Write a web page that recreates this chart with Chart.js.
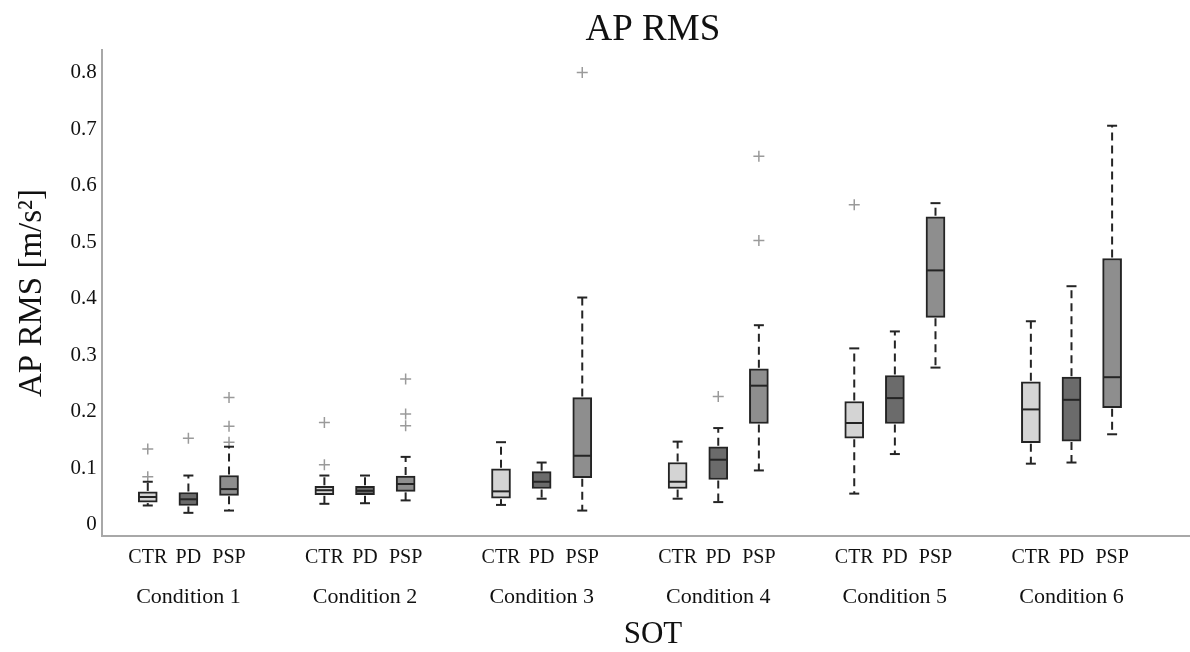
<!DOCTYPE html>
<html>
<head>
<meta charset="utf-8">
<title>AP RMS</title>
<script src="https://cdn.jsdelivr.net/npm/chart.js@4.4.1/dist/chart.umd.min.js"></script>
<style>
  html, body { margin: 0; padding: 0; background: #fff; overflow: hidden; }
  #wrap { width: 1190px; height: 652px; }
</style>
</head>
<body>
<div id="wrap"><canvas id="grafico"></canvas></div>
<script>
// categorias
const conditions = ['Condition 1', 'Condition 2', 'Condition 3', 'Condition 4', 'Condition 5', 'Condition 6'];
const groups = ['CTR', 'PD', 'PSP'];
const yTickValues = [0, 0.1, 0.2, 0.3, 0.4, 0.5, 0.6, 0.7, 0.8];
const chartTitle = 'AP RMS';
const xTitle = 'SOT';
const yTitle = 'AP RMS [m/s²]';

// CTR (min whisker, Q1, mediana, Q3, max whisker, outliers)
const ctrLow  = [0.034, 0.037, 0.035, 0.046, 0.055, 0.108];
const ctrQ1   = [0.040, 0.053, 0.047, 0.064, 0.153, 0.145];
const ctrMed  = [0.049, 0.061, 0.059, 0.076, 0.180, 0.204];
const ctrQ3   = [0.058, 0.068, 0.099, 0.110, 0.218, 0.253];
const ctrHigh = [0.076, 0.087, 0.146, 0.147, 0.312, 0.360];
const ctrOut  = [[0.134, 0.085], [0.181, 0.106], [], [], [0.566], []];

// PD
const pdLow  = [0.021, 0.038, 0.046, 0.040, 0.125, 0.110];
const pdQ1   = [0.034, 0.053, 0.064, 0.080, 0.179, 0.148];
const pdMed  = [0.045, 0.060, 0.076, 0.115, 0.224, 0.221];
const pdQ3   = [0.057, 0.068, 0.094, 0.138, 0.264, 0.261];
const pdHigh = [0.087, 0.087, 0.110, 0.171, 0.342, 0.422];
const pdOut  = [[0.153], [], [], [0.227], [], []];

// PSP
const pspLow  = [0.025, 0.043, 0.025, 0.096, 0.278, 0.160];
const pspQ1   = [0.052, 0.059, 0.083, 0.179, 0.367, 0.207];
const pspMed  = [0.063, 0.072, 0.122, 0.246, 0.450, 0.261];
const pspQ3   = [0.087, 0.086, 0.225, 0.276, 0.545, 0.471];
const pspHigh = [0.138, 0.120, 0.402, 0.353, 0.569, 0.706];
const pspOut  = [[0.225, 0.174, 0.146], [0.258, 0.196, 0.175], [0.80], [0.652, 0.503], [], []];

const FONT = "'Liberation Serif', 'Times New Roman', serif";
const groupOffset = [-0.23, 0, 0.23];
const fills = ['#d4d4d4', '#6b6b6b', '#8e8e8e'];
const lineColor = '#242424';

const stats = [
    { low: ctrLow, q1: ctrQ1, med: ctrMed, q3: ctrQ3, high: ctrHigh, out: ctrOut },
    { low: pdLow,  q1: pdQ1,  med: pdMed,  q3: pdQ3,  high: pdHigh,  out: pdOut },
    { low: pspLow, q1: pspQ1, med: pspMed, q3: pspQ3, high: pspHigh, out: pspOut }
];

// posição no eixo x: condição + deslocamento do grupo
function pos(c, g) { return c + 1 + groupOffset[g]; }

const boxDatasets = stats.map((s, g) => ({
    type: 'bar',
    label: groups[g],
    data: conditions.map((_, c) => ({ x: pos(c, g), y: [s.q1[c], s.q3[c]] })),
    backgroundColor: fills[g],
    borderColor: lineColor,
    borderWidth: 2,
    borderSkipped: false,
    barThickness: 19,
    grouped: false,
    order: 2
}));

const outlierDataset = {
    type: 'scatter',
    label: 'outliers',
    data: stats.flatMap((s, g) => s.out.flatMap((vals, c) => vals.map(v => ({ x: pos(c, g), y: v })))),
    pointStyle: 'cross',
    pointRadius: 5.5,
    borderColor: '#9a9a9a',
    borderWidth: 1.5,
    order: 1
};

// bigodes, tampas e medianas
const whiskerPlugin = {
    id: 'whiskers',
    afterDatasetsDraw(chart) {
        const { ctx, scales: { x, y } } = chart;
        const seg = (x1, y1, x2, y2) => {
            ctx.beginPath(); ctx.moveTo(x1, y1); ctx.lineTo(x2, y2); ctx.stroke();
        };
        ctx.save();
        ctx.strokeStyle = lineColor;
        ctx.lineWidth = 2;
        stats.forEach((s, g) => {
            conditions.forEach((_, c) => {
                const px = x.getPixelForValue(pos(c, g));
                const yLow = y.getPixelForValue(s.low[c]);
                const yQ1 = y.getPixelForValue(s.q1[c]);
                const yMed = y.getPixelForValue(s.med[c]);
                const yQ3 = y.getPixelForValue(s.q3[c]);
                const yHigh = y.getPixelForValue(s.high[c]);
                ctx.setLineDash([8, 5]);
                seg(px, yQ3 - 1, px, yHigh);
                seg(px, yQ1 + 1, px, yLow);
                ctx.setLineDash([]);
                seg(px - 5, yHigh, px + 5, yHigh);
                seg(px - 5, yLow, px + 5, yLow);
                seg(px - 9, yMed, px + 9, yMed);
            });
        });
        ctx.restore();
    }
};

// título do gráfico e do eixo x (um pouco à direita do centro, como no original)
const titlePlugin = {
    id: 'titulos',
    afterDraw(chart) {
        const { ctx, chartArea } = chart;
        const cx = (chartArea.left + chartArea.right) / 2 + 7;
        ctx.save();
        ctx.fillStyle = '#111';
        ctx.textAlign = 'center';
        ctx.textBaseline = 'middle';
        ctx.font = '37px ' + FONT;
        ctx.fillText(chartTitle, cx, 30);
        ctx.font = '31px ' + FONT;
        ctx.fillText(xTitle, cx, chart.height - 17);
        ctx.restore();
    }
};

new Chart(document.getElementById('grafico'), {
    type: 'bar',
    data: { datasets: [...boxDatasets, outlierDataset] },
    options: {
        responsive: true,
        maintainAspectRatio: false,
        animation: false,
        layout: { autoPadding: false, padding: { top: 50, left: 0, right: 0, bottom: 41.6 } },
        plugins: {
            legend: { display: false },
            tooltip: { enabled: false }
        },
        scales: {
            x: {
                type: 'linear',
                min: 0.51,
                max: 6.671,
                offset: false,
                weight: 0,
                grid: { display: false, drawTicks: true, tickLength: 10, tickColor: 'rgba(0,0,0,0)' },
                border: { display: true, color: '#a8a8a8', width: 2 },
                afterBuildTicks(scale) {
                    scale.ticks = conditions.flatMap((_, c) => groups.map((_, g) => ({ value: pos(c, g) })));
                },
                ticks: {
                    autoSkip: false,
                    maxRotation: 0,
                    padding: 0,
                    color: '#111',
                    font: { family: FONT, size: 20 },
                    callback: (v, i) => groups[i % groups.length]
                }
            },
            xc: {
                type: 'linear',
                position: 'bottom',
                min: 0.51,
                max: 6.671,
                offset: false,
                weight: 1,
                grid: { display: false, drawTicks: true, tickLength: 14, tickColor: 'rgba(0,0,0,0)' },
                border: { display: false },
                afterBuildTicks(scale) {
                    scale.ticks = conditions.map((_, c) => ({ value: c + 1 }));
                },
                ticks: {
                    autoSkip: false,
                    maxRotation: 0,
                    padding: 0,
                    color: '#111',
                    font: { family: FONT, size: 22 },
                    callback: (v, i) => conditions[i]
                }
            },
            y: {
                min: -0.02,
                max: 0.84,
                grid: { display: false, drawTicks: false },
                border: { display: true, color: '#a8a8a8', width: 2 },
                afterBuildTicks(scale) {
                    scale.ticks = yTickValues.map(v => ({ value: v }));
                },
                ticks: {
                    padding: 5,
                    color: '#111',
                    font: { family: FONT, size: 21 },
                    callback: v => (v === 0 ? '0' : v.toFixed(1))
                },
                title: {
                    display: true,
                    text: yTitle,
                    color: '#111',
                    font: { family: FONT, size: 33 },
                    padding: { top: 13, bottom: 13 }
                }
            }
        }
    },
    plugins: [whiskerPlugin, titlePlugin]
});
</script>
</body>
</html>
